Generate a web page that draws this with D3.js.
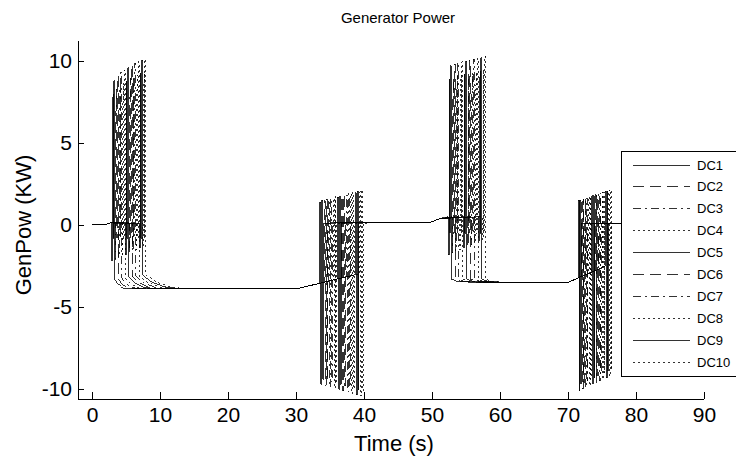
<!DOCTYPE html>
<html>
<head>
<meta charset="utf-8">
<script src="https://cdn.jsdelivr.net/npm/d3@7"></script>
<style>
  body { margin: 0; background: #fff; }
  svg { font-family: "Liberation Sans", Arial, sans-serif; }
</style>
</head>
<body>
<div id="chart"></div>
<script>
/* DATA: [time (s), power (KW)] */
const dc1 = [[0,0],[2.2,0.05],[2.8,0.15],[2.9,0.1],
  [2.9,-2.2],[3.0,-2.2],[3.0,6.3],[3.1,8.0],[3.1,-0.8],[3.2,-0.8],[3.2,8.8],[3.35,8.8],[3.35,-3.3],
  [3.75,-3.6],[4.31,-3.81],[4.95,-3.9],[30,-3.9],[33.5,-3.55],
  [33.5,1.4],[33.65,1.4],[33.65,-9.7],[33.8,-9.7],[33.8,1.5],[33.92,1.5],[33.92,-9.4],[34.05,-9.4],[34.05,0.12],
  [49.7,0.15],[51.2,0.4],[52.4,0.5],
  [52.4,-1.8],[52.5,-1.8],[52.5,7.2],[52.6,8.9],[52.6,-0.5],[52.7,-0.5],[52.7,9.7],[52.85,9.7],[52.85,-3.3],
  [53.6,-3.42],[55.4,-3.48],[57.4,-3.5],[70,-3.5],[71.5,-3.23],
  [71.5,1.5],[71.62,1.5],[71.62,-10.1],[71.74,-10.1],[71.74,1.5],[71.84,1.5],[71.84,-9.7],[71.94,-9.7],[71.94,0.12],[80,0.12]];
const dc2 = [[0,0],[2.2,0.05],[2.8,0.15],[3.41,0.1],
  [3.41,-2.1],[3.51,-2.1],[3.51,6.6],[3.61,8.3],[3.61,-0.8],[3.71,-0.8],[3.71,9.1],[3.86,9.1],[3.86,-3.27],
  [4.38,-3.585],[5.11,-3.8],[5.94,-3.9],[30,-3.9],[34.15,-3.49],
  [34.15,1.47],[34.3,1.47],[34.3,-9.78],[34.45,-9.78],[34.45,1.57],[34.57,1.57],[34.57,-9.48],[34.7,-9.48],[34.7,0.12],
  [49.7,0.15],[51.2,0.4],[52.96,0.5],
  [52.96,-1.7],[53.06,-1.7],[53.06,7.3],[53.16,9.0],[53.16,-0.5],[53.26,-0.5],[53.26,9.8],[53.41,9.8],[53.41,-3.3],
  [54.16,-3.42],[55.96,-3.48],[57.96,-3.5],[70,-3.5],[72,-3.14],
  [72,1.57],[72.12,1.57],[72.12,-10.0],[72.24,-10.0],[72.24,1.57],[72.34,1.57],[72.34,-9.6],[72.44,-9.6],[72.44,0.12],[80,0.12]];
const dc3 = [[0,0],[2.2,0.05],[2.8,0.15],[3.92,0.1],
  [3.92,-2.0],[4.02,-2.0],[4.02,6.8],[4.12,8.5],[4.12,-0.8],[4.22,-0.8],[4.22,9.3],[4.37,9.3],[4.37,-3.24],
  [5.01,-3.57],[5.91,-3.8],[6.93,-3.9],[30,-3.9],[34.8,-3.42],
  [34.8,1.54],[34.95,1.54],[34.95,-9.86],[35.1,-9.86],[35.1,1.64],[35.22,1.64],[35.22,-9.56],[35.35,-9.56],[35.35,0.12],
  [49.7,0.15],[51.2,0.4],[53.52,0.5],
  [53.52,-1.6],[53.62,-1.6],[53.62,7.4],[53.72,9.1],[53.72,-0.5],[53.82,-0.5],[53.82,9.9],[53.97,9.9],[53.97,-3.3],
  [54.72,-3.42],[56.52,-3.48],[58.52,-3.5],[70,-3.5],[72.5,-3.05],
  [72.5,1.64],[72.62,1.64],[72.62,-9.9],[72.74,-9.9],[72.74,1.64],[72.84,1.64],[72.84,-9.5],[72.94,-9.5],[72.94,0.12],[80,0.12]];
const dc4 = [[0,0],[2.2,0.05],[2.8,0.15],[4.43,0.1],
  [4.43,-1.9],[4.53,-1.9],[4.53,6.95],[4.63,8.65],[4.63,-0.8],[4.73,-0.8],[4.73,9.45],[4.88,9.45],[4.88,-3.21],
  [5.64,-3.555],[6.7,-3.8],[7.92,-3.9],[30,-3.9],[35.45,-3.35],
  [35.45,1.61],[35.6,1.61],[35.6,-9.94],[35.75,-9.94],[35.75,1.71],[35.87,1.71],[35.87,-9.64],[36.0,-9.64],[36.0,0.12],
  [49.7,0.15],[51.2,0.4],[54.08,0.5],
  [54.08,-1.5],[54.18,-1.5],[54.18,7.45],[54.28,9.15],[54.28,-0.5],[54.38,-0.5],[54.38,9.95],[54.53,9.95],[54.53,-3.3],
  [55.28,-3.42],[57.08,-3.48],[59.08,-3.5],[70,-3.5],[73,-2.96],
  [73,1.71],[73.12,1.71],[73.12,-9.8],[73.24,-9.8],[73.24,1.71],[73.34,1.71],[73.34,-9.4],[73.44,-9.4],[73.44,0.12],[80,0.12]];
const dc5 = [[0,0],[2.2,0.05],[2.8,0.15],[4.94,0.1],
  [4.94,-1.8],[5.04,-1.8],[5.04,7.1],[5.14,8.8],[5.14,-0.8],[5.24,-0.8],[5.24,9.6],[5.39,9.6],[5.39,-3.18],
  [6.27,-3.54],[7.5,-3.79],[8.91,-3.9],[30,-3.9],[36.1,-3.29],
  [36.1,1.68],[36.25,1.68],[36.25,-10.02],[36.4,-10.02],[36.4,1.78],[36.52,1.78],[36.52,-9.72],[36.65,-9.72],[36.65,0.12],
  [49.7,0.15],[51.2,0.4],[54.64,0.5],
  [54.64,-1.4],[54.74,-1.4],[54.74,7.5],[54.84,9.2],[54.84,-0.5],[54.94,-0.5],[54.94,10.0],[55.09,10.0],[55.09,-3.3],
  [55.84,-3.42],[57.64,-3.48],[59.64,-3.5],[70,-3.5],[73.5,-2.87],
  [73.5,1.78],[73.62,1.78],[73.62,-9.7],[73.74,-9.7],[73.74,1.78],[73.84,1.78],[73.84,-9.3],[73.94,-9.3],[73.94,0.12],[80,0.12]];
const dc6 = [[0,0],[2.2,0.05],[2.8,0.15],[5.45,0.1],
  [5.45,-1.7],[5.55,-1.7],[5.55,7.25],[5.65,8.95],[5.65,-0.8],[5.75,-0.8],[5.75,9.75],[5.9,9.75],[5.9,-3.15],
  [6.9,-3.525],[8.3,-3.79],[9.9,-3.9],[30,-3.9],[36.75,-3.23],
  [36.75,1.75],[36.9,1.75],[36.9,-10.1],[37.05,-10.1],[37.05,1.85],[37.17,1.85],[37.17,-9.8],[37.3,-9.8],[37.3,0.12],
  [49.7,0.15],[51.2,0.4],[55.2,0.5],
  [55.2,-1.3],[55.3,-1.3],[55.3,7.55],[55.4,9.25],[55.4,-0.5],[55.5,-0.5],[55.5,10.05],[55.65,10.05],[55.65,-3.3],
  [56.4,-3.42],[58.2,-3.48],[60.2,-3.5],[70,-3.5],[74,-2.78],
  [74,1.85],[74.12,1.85],[74.12,-9.6],[74.24,-9.6],[74.24,1.85],[74.34,1.85],[74.34,-9.2],[74.44,-9.2],[74.44,0.12],[80,0.12]];
const dc7 = [[0,0],[2.2,0.05],[2.8,0.15],[5.96,0.1],
  [5.96,-1.6],[6.06,-1.6],[6.06,7.35],[6.16,9.05],[6.16,-0.8],[6.26,-0.8],[6.26,9.85],[6.41,9.85],[6.41,-3.12],
  [7.53,-3.51],[9.1,-3.78],[10.89,-3.9],[30,-3.9],[37.4,-3.16],
  [37.4,1.82],[37.55,1.82],[37.55,-10.18],[37.7,-10.18],[37.7,1.92],[37.82,1.92],[37.82,-9.88],[37.95,-9.88],[37.95,0.12],
  [49.7,0.15],[51.2,0.4],[55.76,0.5],
  [55.76,-1.2],[55.86,-1.2],[55.86,7.6],[55.96,9.3],[55.96,-0.5],[56.06,-0.5],[56.06,10.1],[56.21,10.1],[56.21,-3.3],
  [56.96,-3.42],[58.76,-3.48],[60.76,-3.5],[70,-3.5],[74.5,-2.69],
  [74.5,1.92],[74.62,1.92],[74.62,-9.5],[74.74,-9.5],[74.74,1.92],[74.84,1.92],[74.84,-9.1],[74.94,-9.1],[74.94,0.12],[80,0.12]];
const dc8 = [[0,0],[2.2,0.05],[2.8,0.15],[6.47,0.1],
  [6.47,-1.5],[6.57,-1.5],[6.57,7.45],[6.67,9.15],[6.67,-0.8],[6.77,-0.8],[6.77,9.95],[6.92,9.95],[6.92,-3.09],
  [8.16,-3.5],[9.9,-3.78],[11.88,-3.9],[30,-3.9],[38.05,-3.1],
  [38.05,1.89],[38.2,1.89],[38.2,-10.26],[38.35,-10.26],[38.35,1.99],[38.47,1.99],[38.47,-9.96],[38.6,-9.96],[38.6,0.12],
  [49.7,0.15],[51.2,0.4],[56.32,0.5],
  [56.32,-1.1],[56.42,-1.1],[56.42,7.65],[56.52,9.35],[56.52,-0.5],[56.62,-0.5],[56.62,10.15],[56.77,10.15],[56.77,-3.3],
  [57.52,-3.42],[59.32,-3.48],[61.32,-3.5],[70,-3.5],[75,-2.6],
  [75,1.99],[75.12,1.99],[75.12,-9.4],[75.24,-9.4],[75.24,1.99],[75.34,1.99],[75.34,-9.0],[75.44,-9.0],[75.44,0.12],[80,0.12]];
const dc9 = [[0,0],[2.2,0.05],[2.8,0.15],[6.98,0.1],
  [6.98,-1.4],[7.08,-1.4],[7.08,7.55],[7.18,9.25],[7.18,-0.8],[7.28,-0.8],[7.28,10.05],[7.43,10.05],[7.43,-3.06],
  [8.79,-3.48],[10.69,-3.77],[12.87,-3.9],[30,-3.9],[38.7,-3.03],
  [38.7,1.96],[38.85,1.96],[38.85,-10.34],[39.0,-10.34],[39.0,2.06],[39.12,2.06],[39.12,-10.04],[39.25,-10.04],[39.25,0.12],
  [49.7,0.15],[51.2,0.4],[56.88,0.5],
  [56.88,-1.0],[56.98,-1.0],[56.98,7.7],[57.08,9.4],[57.08,-0.5],[57.18,-0.5],[57.18,10.2],[57.33,10.2],[57.33,-3.3],
  [58.08,-3.42],[59.88,-3.48],[61.88,-3.5],[70,-3.5],[75.5,-2.51],
  [75.5,2.06],[75.62,2.06],[75.62,-9.3],[75.74,-9.3],[75.74,2.06],[75.84,2.06],[75.84,-8.9],[75.94,-8.9],[75.94,0.12],[80,0.12]];
const dc10 = [[0,0],[2.2,0.05],[2.8,0.15],[7.49,0.1],
  [7.49,-1.3],[7.59,-1.3],[7.59,7.6],[7.69,9.3],[7.69,-0.8],[7.79,-0.8],[7.79,10.1],[7.94,10.1],[7.94,-3.03],
  [9.42,-3.47],[11.49,-3.77],[13.86,-3.9],[30,-3.9],[39.35,-2.97],
  [39.35,2.03],[39.5,2.03],[39.5,-10.42],[39.65,-10.42],[39.65,2.13],[39.77,2.13],[39.77,-10.12],[39.9,-10.12],[39.9,0.12],
  [49.7,0.15],[51.2,0.4],[57.44,0.5],
  [57.44,-0.9],[57.54,-0.9],[57.54,7.8],[57.64,9.5],[57.64,-0.5],[57.74,-0.5],[57.74,10.3],[57.89,10.3],[57.89,-3.3],
  [58.64,-3.42],[60.44,-3.48],[62.44,-3.5],[70,-3.5],[76,-2.42],
  [76,2.13],[76.12,2.13],[76.12,-9.2],[76.24,-9.2],[76.24,2.13],[76.34,2.13],[76.34,-8.8],[76.44,-8.8],[76.44,0.12],[80,0.12]];

const seriesNames = ["DC1","DC2","DC3","DC4","DC5","DC6","DC7","DC8","DC9","DC10"];
const seriesData = [dc1, dc2, dc3, dc4, dc5, dc6, dc7, dc8, dc9, dc10];
const seriesStyles = ["solid","dashed","dashdot","dotted","solid","dashed","dashdot","dotted","solid","dotted"];
const xTicks = [0, 10, 20, 30, 40, 50, 60, 70, 80, 90];
const yTicks = [-10, -5, 0, 5, 10];

/* CONSTANTS */
const width = 736, height = 461;
const plot = { left: 78, right: 704, top: 41, bottom: 399 };
const dashes = { solid: "none", dashed: "11,6", dashdot: "8,4,2,4", dotted: "2,3" };

const svg = d3.select("#chart").append("svg")
  .attr("width", width)
  .attr("height", height);

const xScale = d3.scaleLinear().domain([-2.06, 90]).range([plot.left, plot.right]);
const yScale = d3.scaleLinear().domain([-10.61, 11.22]).range([plot.bottom, plot.top]);

svg.append("clipPath").attr("id", "clip")
  .append("rect")
  .attr("x", plot.left).attr("y", plot.top)
  .attr("width", plot.right - plot.left).attr("height", plot.bottom - plot.top);

// lines
const line = d3.line().x(d => xScale(d[0])).y(d => yScale(d[1]));

svg.append("g").attr("clip-path", "url(#clip)")
  .selectAll("path")
  .data(seriesData)
  .join("path")
  .attr("d", line)
  .attr("fill", "none")
  .attr("stroke", "#000")
  .attr("stroke-width", 0.8)
  .attr("shape-rendering", "crispEdges")
  .attr("stroke-dasharray", (d, i) => dashes[seriesStyles[i]]);

// axes (ticks pointing inwards, plain hyphen minus like the original)
const fmt = d => String(d);
const xAxis = d3.axisBottom(xScale).tickValues(xTicks).tickFormat(fmt)
  .tickSizeInner(-7).tickSizeOuter(0).tickPadding(8);
const yAxis = d3.axisLeft(yScale).tickValues(yTicks).tickFormat(fmt)
  .tickSizeInner(-6).tickSizeOuter(0).tickPadding(6);

const gx = svg.append("g")
  .attr("transform", `translate(0,${plot.bottom})`)
  .call(xAxis);
gx.select(".domain").attr("d", `M${plot.left},0.5H${plot.right}`);

const gy = svg.append("g")
  .attr("transform", `translate(${plot.left},0)`)
  .call(yAxis);
gy.select(".domain").attr("d", `M0.5,${plot.top}V${plot.bottom}`);

svg.selectAll(".tick text")
  .attr("font-size", 21)
  .attr("font-family", "Liberation Sans, Arial, sans-serif")
  .attr("fill", "#000");
svg.selectAll(".tick line, .domain").attr("stroke", "#000");

// labels
svg.append("text")
  .attr("x", 398).attr("y", 23)
  .attr("text-anchor", "middle")
  .attr("font-size", 15)
  .text("Generator Power");

svg.append("text")
  .attr("x", 394).attr("y", 451)
  .attr("text-anchor", "middle")
  .attr("font-size", 22)
  .text("Time (s)");

svg.append("text")
  .attr("transform", "translate(31,225) rotate(-90)")
  .attr("text-anchor", "middle")
  .attr("font-size", 22)
  .text("GenPow (KW)");

// legend
const legend = svg.append("g");
legend.append("rect")
  .attr("x", 621.5).attr("y", 151.5)
  .attr("width", 130).attr("height", 225)
  .attr("fill", "#fff")
  .attr("stroke", "#000")
  .attr("stroke-width", 1);

const item = legend.selectAll("g.item")
  .data(seriesNames)
  .join("g")
  .attr("class", "item")
  .attr("transform", (d, i) => `translate(0,${165 + i * 21.9})`);

item.append("line")
  .attr("x1", 633).attr("x2", 690)
  .attr("stroke", "#000")
  .attr("stroke-width", 0.8)
  .attr("shape-rendering", "crispEdges")
  .attr("stroke-dasharray", (d, i) => dashes[seriesStyles[i]]);

item.append("text")
  .attr("x", 697).attr("y", 4.5)
  .attr("font-size", 13)
  .text(d => d);
</script>
</body>
</html>
